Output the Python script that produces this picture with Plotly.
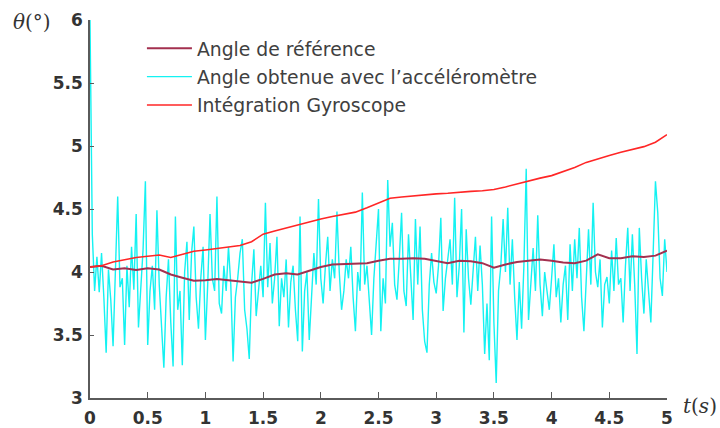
import numpy as np
import plotly.graph_objects as go

# --- data -------------------------------------------------------------
# accelerometer angle, sampled every 0.02 s from 0 to 5 s
acc_dt = 0.02
acc_angle = [
    6.00, 4.30, 3.85, 4.12, 3.84, 4.15, 3.80, 3.36, 4.02, 3.78,
    3.41, 4.10, 4.60, 3.88, 3.95, 3.42, 4.05, 3.72, 4.20, 3.86,
    4.46, 3.56, 3.90, 4.18, 4.72,
    3.42, 3.85, 4.05, 3.70, 4.49, 3.90, 3.55, 3.24, 3.80, 4.10,
    3.60, 3.25, 4.44, 3.70, 3.85, 3.26, 4.00, 4.24, 3.62, 4.15,
    4.36, 3.80, 3.55, 3.95, 4.20,
    3.46, 3.90, 4.46, 3.95, 3.85, 4.60, 3.75, 3.67, 4.05, 3.85,
    4.20, 3.90, 3.29, 3.80, 3.95, 4.15, 4.26, 3.70, 3.55, 3.31,
    3.90, 4.18, 3.65, 3.85, 4.05,
    3.80, 4.55, 3.88, 4.23, 3.75, 3.95, 4.28, 3.57, 3.95, 3.80,
    4.10, 3.56, 3.92, 4.05, 3.70, 3.45, 4.44, 3.37, 3.85, 4.00,
    3.46, 3.80, 4.15, 3.90, 4.58,
    3.95, 3.75, 4.05, 4.28, 3.85, 4.10, 3.95, 4.48, 4.00, 3.70,
    3.85, 4.10, 3.95, 4.20, 3.80, 3.53, 4.00, 3.85, 4.63, 3.90,
    4.05, 3.80, 3.50, 3.95, 4.19,
    4.50, 3.53, 3.95, 3.75, 4.73, 4.20, 4.39, 3.90, 3.78, 4.10,
    4.47, 3.85, 3.73, 4.30, 3.95, 3.62, 4.42, 3.90, 4.36, 3.70,
    3.45, 3.36, 3.90, 4.15, 3.92,
    3.83, 4.05, 4.43, 3.69, 3.95, 4.10, 4.26, 3.90, 4.59, 3.80,
    4.05, 4.50, 3.52, 4.34, 3.95, 3.74, 4.00, 4.28, 3.85, 4.21,
    3.90, 3.35, 3.75, 3.30, 4.44,
    3.60, 3.12, 3.85, 4.05, 4.42, 4.00, 4.51, 3.90, 4.26, 3.80,
    3.46, 3.92, 3.55, 4.05, 4.82, 3.62, 3.95, 4.19, 3.85, 4.45,
    3.90, 3.65, 4.00, 3.85, 3.70,
    3.95, 4.22, 3.80, 3.95, 3.60, 3.90, 4.05, 3.62, 4.22, 3.85,
    4.26, 3.95, 4.35, 3.80, 3.53, 4.00, 4.34, 3.90, 4.55, 4.00,
    3.88, 4.10, 3.56, 3.90, 3.96,
    3.75, 4.17, 3.85, 4.27, 3.90, 3.95, 3.60, 4.05, 4.35, 3.85,
    4.30, 3.90, 3.35, 4.35, 3.95, 3.67, 4.10, 3.85, 3.60, 4.15,
    4.72, 4.47, 3.95, 3.81, 4.26, 4.00,
]
acc_time = np.arange(len(acc_angle)) * acc_dt

# reference angle and gyroscope integration, every 0.1 s
slow_time = [round(0.1 * i, 1) for i in range(51)]
ref_angle = [
    4.04, 4.05, 4.02, 4.03, 4.015, 4.03, 4.02, 3.98, 3.955, 3.93,
    3.935, 3.945, 3.935, 3.925, 3.915, 3.945, 3.98, 3.99, 3.98, 4.01,
    4.04, 4.06, 4.065, 4.065, 4.07, 4.09, 4.105, 4.105, 4.11, 4.105,
    4.085, 4.07, 4.09, 4.085, 4.07, 4.035, 4.06, 4.08, 4.09, 4.10,
    4.09, 4.075, 4.07, 4.09, 4.14, 4.11, 4.11, 4.125, 4.12, 4.13,
    4.17,
]
gyro_angle = [
    4.04, 4.05, 4.08, 4.10, 4.115, 4.125, 4.135, 4.115, 4.14, 4.165,
    4.175, 4.185, 4.195, 4.21, 4.24, 4.30, 4.325, 4.35, 4.375, 4.40,
    4.42, 4.44, 4.455, 4.475, 4.51, 4.545, 4.585, 4.595, 4.605, 4.615,
    4.62, 4.625, 4.635, 4.64, 4.645, 4.655, 4.675, 4.70, 4.725, 4.745,
    4.765, 4.795, 4.83, 4.87, 4.90, 4.925, 4.95, 4.975, 4.995, 5.03,
    5.09,
]

x_ticks = [0, 0.5, 1, 1.5, 2, 2.5, 3, 3.5, 4, 4.5, 5]
x_tick_text = ["0", "0.5", "1", "1.5", "2", "2.5", "3", "3.5", "4", "4.5", "5"]
y_ticks = [3, 3.5, 4, 4.5, 5, 5.5, 6]
y_tick_text = ["3", "3.5", "4", "4.5", "5", "5.5", "6"]

# --- figure -----------------------------------------------------------
fig = go.Figure()

fig.add_trace(go.Scatter(
    x=acc_time, y=acc_angle, mode="lines",
    name="Angle obtenue avec l\u2019acc\u00e9l\u00e9rom\u00e8tre",
    line=dict(color="#14F2F2", width=1.4), legendrank=2, legendgroup="acc",
))
fig.add_trace(go.Scatter(
    x=slow_time, y=ref_angle, mode="lines",
    name="Angle de r\u00e9f\u00e9rence",
    line=dict(color="#A3304F", width=2), legendrank=1, legendgroup="ref",
))
fig.add_trace(go.Scatter(
    x=slow_time, y=gyro_angle, mode="lines",
    name="Int\u00e9gration Gyroscope",
    line=dict(color="#FF2626", width=1.6), legendrank=3, legendgroup="gyro",
))

axis_color = "#5a5a5a"
tick_font = dict(family="DejaVu Sans", size=17, color="#333333", weight="bold")

fig.update_xaxes(
    range=[0, 5], tickvals=x_ticks, ticktext=x_tick_text,
    showline=True, linecolor=axis_color, linewidth=1.5,
    ticks="inside", ticklen=6, tickcolor=axis_color, tickwidth=1.2,
    showgrid=False, zeroline=False, tickfont=tick_font, ticklabelstandoff=4,
    automargin=False,
)
fig.update_yaxes(
    range=[3, 6], tickvals=y_ticks, ticktext=y_tick_text,
    showline=True, linecolor=axis_color, linewidth=1.5,
    ticks="inside", ticklen=4, tickcolor=axis_color, tickwidth=1.2,
    showgrid=False, zeroline=False, tickfont=tick_font, ticklabelstandoff=2,
    automargin=False,
)

fig.update_layout(
    width=720, height=428,
    margin=dict(l=90, r=53, t=20, b=30),
    paper_bgcolor="white", plot_bgcolor="white",
    showlegend=True,
    legend=dict(
        x=0.09, y=0.975, xanchor="left", yanchor="top",
        bgcolor="rgba(0,0,0,0)",
        font=dict(family="DejaVu Sans", size=18.8, color="#404040"),
        tracegroupgap=1, itemwidth=45,
    ),
    annotations=[
        dict(text="<i>\u03b8</i>(\u00b0)", xref="paper", yref="paper",
             x=-0.10, y=0.995, xanchor="center", yanchor="middle",
             showarrow=False,
             font=dict(family="DejaVu Serif", size=20, color="#333333")),
        dict(text="<i>t</i>(<i>s</i>)", xref="paper", yref="paper",
             x=1.058, y=-0.02, xanchor="center", yanchor="middle",
             showarrow=False,
             font=dict(family="DejaVu Serif", size=20, color="#333333")),
    ],
)

fig.write_html("out.html")
